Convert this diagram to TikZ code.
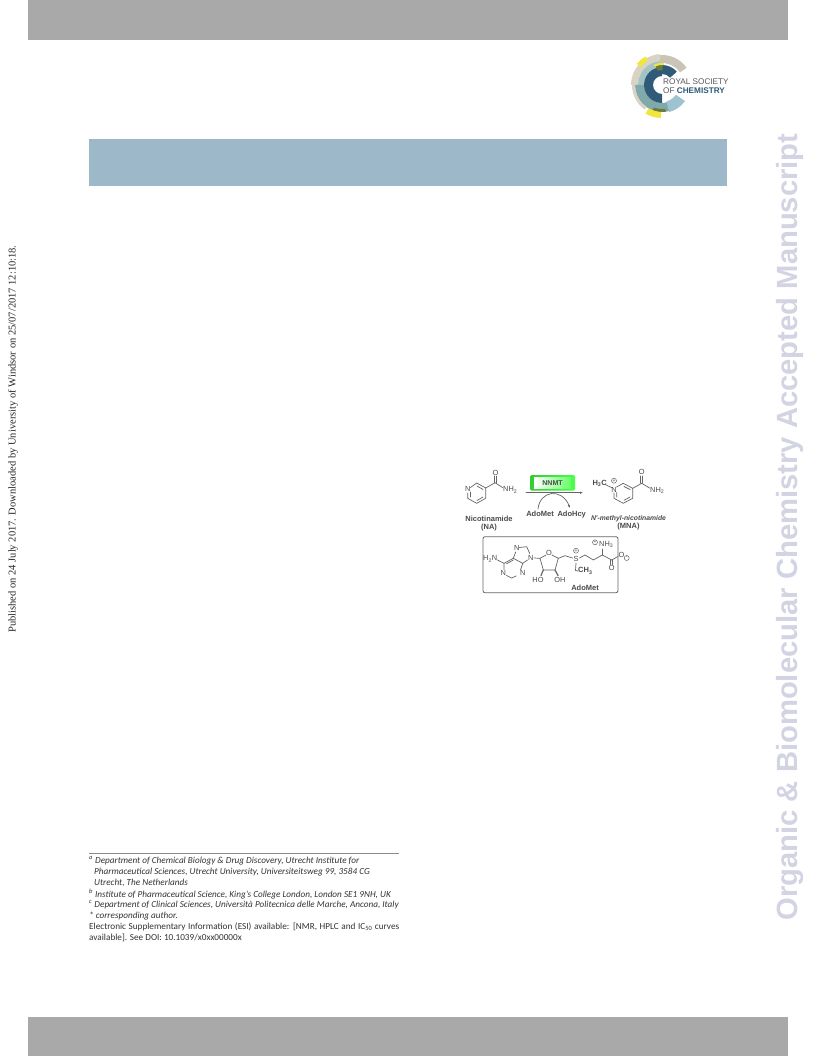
\documentclass[tikz,border=0pt]{standalone}
\usepackage{fontspec}
\setmainfont{Carlito}
\newfontfamily\arialf{Liberation Sans}
\newfontfamily\timesf{Liberation Serif}
\usetikzlibrary{arrows.meta}
\definecolor{barg}{HTML}{A9A9A9}
\definecolor{bandb}{HTML}{9DB8C8}
\definecolor{wmark}{HTML}{D3D4E3}
\definecolor{chemg}{HTML}{4A4A4A}
\definecolor{lnavy}{HTML}{2F5B78}
\definecolor{lteal}{HTML}{7FA9AA}
\definecolor{lsky}{HTML}{9CC3CF}
\definecolor{ltan}{HTML}{D9D3C4}
\definecolor{lgrey}{HTML}{C9C4B6}
\definecolor{lyel}{HTML}{F2E63C}
\definecolor{lolive}{HTML}{6B7B3C}
\tikzset{
 foot/.style={anchor=west,inner sep=0pt,font=\fontsize{9.2}{10}\selectfont\itshape,text=black!80},
 footr/.style={anchor=west,inner sep=0pt,font=\fontsize{9.2}{10}\selectfont,text=black!80},
 atomlab/.style={inner sep=0pt,font=\arialf\fontsize{7.4}{8}\selectfont,text=chemg},
 namelab/.style={inner sep=0pt,font=\arialf\bfseries\fontsize{7.5}{8}\selectfont,text=chemg},
 bond/.style={draw=chemg!85,line width=0.7pt,line cap=round,line join=round},
 chg/.style={draw=chemg,line width=0.4pt,circle,minimum size=5pt,inner sep=0pt,font=\arialf\fontsize{5}{5}\selectfont,text=chemg},
}
\newcommand{\sect}[5]{\fill[#1] (#4:#3pt) arc[start angle=#4,end angle=#5,radius=#3pt] -- (#5:#2pt) arc[start angle=#5,end angle=#4,radius=#2pt] -- cycle;}
\begin{document}
\begin{tikzpicture}[x=1pt,y=-1pt]
\useasboundingbox (0,0) rectangle (816,1056);
\fill[white] (0,0) rectangle (816,1056);
\fill[barg] (28,0) rectangle (788,40);
\fill[barg] (28,1017) rectangle (788,1056);
\fill[bandb] (89,139) rectangle (727,186);
% logo
\begin{scope}[shift={(662,85)}]
\sect{ltan}{24}{31}{95}{180}
\sect{lgrey}{22}{30}{35}{95}
\sect{lteal!70!white}{18}{24}{95}{180}
\sect{lteal}{18}{27}{180}{300}
\sect{ltan}{27}{30}{180}{235}
\sect{lsky}{17}{28}{285}{325}
\sect{lnavy}{9}{18}{90}{270}
\sect{lnavy}{11}{20}{42}{90}
\sect{lolive}{15}{20}{88}{108}
\sect{lyel}{20}{22}{85}{112}
\sect{lyel}{28}{33}{120}{140}
\sect{lolive}{24}{27}{250}{278}
\sect{lyel}{27}{33}{240}{268}
\end{scope}
\node[anchor=west,inner sep=0pt,font=\arialf\fontsize{8.2}{9}\selectfont,text=black!65] (logo1) at (663,81.5) {ROYAL SOCIETY};
\node[anchor=west,inner sep=0pt,font=\arialf\fontsize{8.2}{9}\selectfont,text=black!65] (logo2) at (663,90.5) {OF \textcolor{lnavy}{\bfseries CHEMISTRY}};
% margins
\node[rotate=90,inner sep=0pt,font=\timesf\fontsize{10.5}{11}\selectfont,text=black!85] (pub) at (13,439) {Published on 24 July 2017. Downloaded by University of Windsor on 25/07/2017 12:10:18.};
\node[rotate=90,inner sep=0pt,font=\arialf\bfseries\fontsize{29.2}{32}\selectfont,text=wmark] (wm) at (790,527) {Organic \& Biomolecular Chemistry Accepted Manuscript};
% footnotes
\draw[black!45,line width=0.6pt] (89,853) -- (399,853);
\node[foot] (f1) at (89,861) {\textsuperscript{a} Department of Chemical Biology \& Drug Discovery, Utrecht Institute for};
\node[foot] (f2) at (94,872.5) {Pharmaceutical Sciences, Utrecht University, Universiteitsweg 99, 3584 CG};
\node[foot] (f3) at (94,883) {Utrecht, The Netherlands};
\node[foot] (f4) at (89,894) {\textsuperscript{b} Institute of Pharmaceutical Science, King's College London, London SE1 9NH, UK};
\node[foot] (f5) at (89,904.5) {\textsuperscript{c} Department of Clinical Sciences, Università Politecnica delle Marche, Ancona, Italy};
\node[foot] (f6) at (89,916) {* corresponding author.};
\node[footr] (f7) at (89,927) {\makebox[310pt][s]{Electronic Supplementary Information (ESI) available: [NMR, HPLC and IC\textsubscript{50} curves}};
\node[footr] (f8) at (89,937.5) {available]. See DOI: 10.1039/x0xx00000x};
% nicotinamide
\draw[bond] (470.5,487.5) -- (476.7,483) -- (485.7,488) -- (485.7,498.3) -- (476.7,503.3) -- (467.7,498.3) -- (467.7,493);
\draw[bond] (477,486) -- (483,489.5) (483,497) -- (477,500.5) (470.5,497) -- (470.5,492);
\draw[bond] (485.7,488) -- (495,482.7) -- (502.5,487.5);
\draw[bond] (494.2,482.7) -- (494.2,476) (496,482.7) -- (496,476);
\node[atomlab] (naN) at (467.7,489) {N};
\node[atomlab] (naO) at (495.5,472.5) {O};
\node[atomlab,anchor=west] (naNH) at (503,490) {NH\textsubscript{2}};
\node[namelab] (nal1) at (489,518.7) {Nicotinamide};
\node[namelab] (nal2) at (489,527.7) {(NA)};
% NNMT
\shade[rounded corners=1.5pt,left color=green!75!black!80,right color=green!70] (530,475) rectangle (575,490.7);
\shade[left color=white,right color=green!60!white] (534,477.5) rectangle (571,488);
\node[namelab,font=\arialf\bfseries\fontsize{7}{8}\selectfont] (nnmt) at (552.5,482.7) {NNMT};
\coordinate (ra) at (526,492.7); \coordinate (rb) at (583,492.7);
\draw[bond,-{Latex[length=3pt,width=2.5pt]}] (ra) -- (rb);
\coordinate (ca) at (538,509); \coordinate (cb) at (570,508);
\draw[bond,-{Latex[length=3pt,width=2.5pt]}] (ca) .. controls (540,490) and (562,488) .. (cb);
\node[namelab] (ado1) at (540,514) {AdoMet};
\node[namelab] (ado2) at (571.7,515) {AdoHcy};
% MNA
\draw[bond] (616.5,487) -- (623.3,483.3) -- (632.7,488.3) -- (632.7,498.3) -- (623.3,503.3) -- (614,498.3) -- (614,493);
\draw[bond] (624,486.5) -- (630,489.5) (630,497) -- (624,500.3) (616.8,497) -- (616.8,492.5);
\draw[bond] (632.7,488.3) -- (641.7,483.3) -- (649.5,488);
\draw[bond] (640.8,483.3) -- (640.8,476) (642.6,483.3) -- (642.6,476);
\draw[bond] (606,485) -- (611.5,487.5);
\node[atomlab] (mnN) at (614,489.5) {N};
\node[atomlab] (mnO) at (641.7,472.3) {O};
\node[atomlab,anchor=west] (mnNH) at (650,490.5) {NH\textsubscript{2}};
\node[namelab,anchor=east] (mnC) at (607,483.3) {H\textsubscript{3}C};
\node[chg] (mnch) at (614,480.7) {+};
\node[namelab,font=\arialf\bfseries\itshape\fontsize{6.8}{8}\selectfont] (mnl1) at (628.5,518.7) {N'-methyl-nicotinamide};
\node[namelab] (mnl2) at (628.5,527) {(MNA)};
% AdoMet box
\draw[black!60,line width=0.8pt,rounded corners=2pt] (483,536.7) rectangle (618,592.7);
\node[atomlab,anchor=east] (h2n) at (497.5,559) {H\textsubscript{2}N};
\draw[bond] (497.5,560) -- (504,563.3) -- (504,569.5);
\draw[bond] (506.5,575.5) -- (511.7,578) -- (516,576);
\draw[bond] (520.5,570) -- (522.7,563.3) -- (513.3,558.3) -- (504,563.3);
\draw[bond] (506.5,563.8) -- (513.3,560);
\draw[bond] (513.3,558.3) -- (515.7,552);
\draw[bond] (519.5,547.5) -- (526.7,546.7) -- (529.7,553.5);
\draw[bond] (522.7,563.3) -- (527.5,560);
\node[atomlab] (pN1) at (516.7,548.3) {N};
\node[atomlab] (pN2) at (530.7,557.7) {N};
\node[atomlab] (pN3) at (503.3,573.3) {N};
\node[atomlab] (pN4) at (522.7,573.3) {N};
\draw[bond] (534,558) -- (540,558.3) -- (546,555);
\draw[bond] (552,555) -- (558.3,558.3) -- (555,570) -- (543.3,570) -- (540,558.3);
\draw[bond,line width=1.2pt] (543.3,570) -- (541,575.5);
\draw[bond,line width=1.2pt] (555,570) -- (558,575.5);
\draw[bond] (558.3,558.3) -- (565,555.7) -- (572.5,558);
\node[atomlab] (sO) at (549,553.3) {O};
\node[atomlab] (sHO) at (538,579.8) {HO};
\node[atomlab] (sOH) at (560,579.8) {OH};
\node[atomlab] (sS) at (576,559) {S};
\node[chg] (sch) at (576,550.7) {+};
\draw[bond] (576,563) -- (575.5,570.5) -- (578,571);
\node[namelab,anchor=west] (sCH) at (578,571) {CH\textsubscript{3}};
\draw[bond] (579.5,558) -- (585,555) -- (593.3,560) -- (602.3,555) -- (611.7,560) -- (618,556.5);
\draw[bond] (602.3,555) -- (602.3,549);
\draw[bond] (610.8,560) -- (610.8,564.5) (612.6,560) -- (612.6,564.5);
\node[atomlab,anchor=west] (cNH) at (599,544.5) {NH\textsubscript{3}};
\node[chg] (cch) at (595,542.3) {+};
\node[atomlab] (cO1) at (611.7,568.3) {O};
\node[atomlab] (cO2) at (621.5,555) {O};
\node[chg] (och) at (626.7,558) {-};
\node[namelab] (adolab) at (585,588) {AdoMet};
\end{tikzpicture}
\end{document}
